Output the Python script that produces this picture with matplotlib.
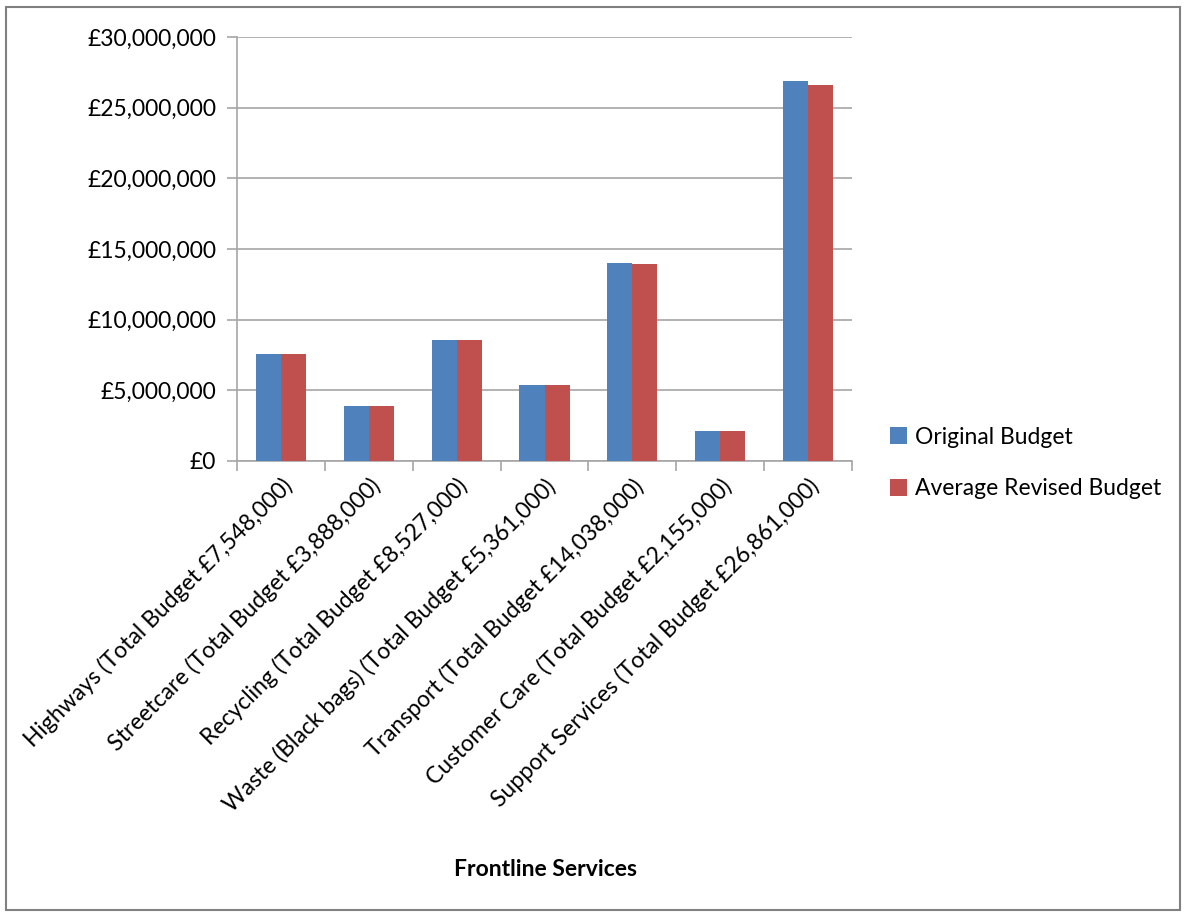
import matplotlib
matplotlib.use("Agg")
import matplotlib.pyplot as plt
import numpy as np
from matplotlib.patches import Rectangle
from matplotlib.ticker import FuncFormatter, MultipleLocator

plt.rcParams['font.family'] = ['Lato', 'DejaVu Sans']

categories = [
    "Highways (Total Budget £7,548,000)",
    "Streetcare (Total Budget £3,888,000)",
    "Recycling (Total Budget £8,527,000)",
    "Waste (Black bags) (Total Budget £5,361,000)",
    "Transport (Total Budget £14,038,000)",
    "Customer Care (Total Budget £2,155,000)",
    "Support Services (Total Budget £26,861,000)",
]
original = [7548000, 3888000, 8527000, 5361000, 14038000, 2155000, 26861000]
revised = [7548000, 3888000, 8527000, 5361000, 13950000, 2155000, 26600000]

BLUE = "#4F81BD"
RED = "#C0504D"
GRID = "#A6A6A6"
FS = 16.5

fig = plt.figure(figsize=(11.87, 9.17), dpi=100)
fig.patch.set_facecolor("white")
# outer frame
fig.add_artist(Rectangle((6 / 1187, 7 / 917), 1174 / 1187, 903 / 917,
                         transform=fig.transFigure, fill=False,
                         edgecolor="#808080", linewidth=1.5))

ax = fig.add_axes([237 / 1187, 1 - 461 / 917, 615 / 1187, 424 / 917])

x = np.arange(len(categories))
w = 0.285
ax.bar(x - w / 2, original, w, color=BLUE, label="Original Budget", zorder=3)
ax.bar(x + w / 2, revised, w, color=RED, label="Average Revised Budget", zorder=3)

ax.set_xlim(-0.5, len(categories) - 0.5)
ax.set_ylim(0, 30000000)
ax.yaxis.set_major_locator(MultipleLocator(5000000))
ax.yaxis.set_major_formatter(FuncFormatter(lambda v, p: f"£{v:,.0f}"))
ax.grid(axis="y", color=GRID, linewidth=1.2, zorder=0)

for s in ["top", "right"]:
    ax.spines[s].set_visible(False)
for s in ["left", "bottom"]:
    ax.spines[s].set_color(GRID)
    ax.spines[s].set_linewidth(1.2)

ax.set_xticks(x)
ax.set_xticklabels(categories, rotation=45, ha="right", va="top",
                   rotation_mode="anchor", fontsize=FS)
ax.tick_params(axis="x", length=0, pad=10)
ax.set_xticks(np.arange(-0.5, len(categories) + 0.5, 1), minor=True)
ax.tick_params(axis="x", which="minor", length=7, color=GRID, width=1.2)
ax.tick_params(axis="y", length=7, color=GRID, width=1.2, labelsize=FS, pad=8)

fig.text(545 / 1187, 1 - 870 / 917, "Frontline Services", ha="center",
         va="center", fontsize=16.5, fontweight="bold")

leg = fig.legend(loc="center left", bbox_to_anchor=(869 / 1187, 1 - 463 / 917),
                 frameon=False, fontsize=FS, handlelength=0.75,
                 handleheight=0.75, labelspacing=1.35, handletextpad=0.35)

fig.savefig("out.png", dpi=100, facecolor="white")
